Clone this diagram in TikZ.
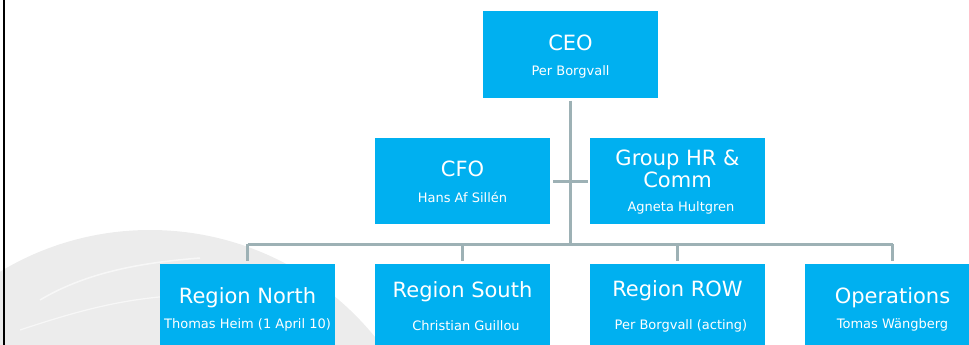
\documentclass[tikz,border=0pt]{standalone}
\usepackage{fontspec}
\setmainfont{DejaVu Sans}
\definecolor{boxblue}{HTML}{00B0F0}
\definecolor{conncol}{HTML}{9DB1B5}
\definecolor{globecol}{HTML}{ECECEC}
\tikzset{
  orgbox/.style={rectangle, fill=boxblue, draw=none, minimum width=175pt, minimum height=86pt, inner sep=0pt},
  tallbox/.style={orgbox, minimum height=110pt},
  ttl/.style={text=white, anchor=base, inner sep=0pt, font=\fontsize{21}{25}\selectfont},
  sub/.style={text=white, anchor=base, inner sep=0pt, font=\fontsize{13}{16}\selectfont},
  conn/.style={draw=conncol, line width=3pt}
}
\begin{document}
\begin{tikzpicture}[x=1pt,y=-1pt]
\useasboundingbox (0,0) rectangle (969,345);
\clip (0,0) rectangle (969,345);
% faint globe watermark
\fill[globecol] (150,520) circle (290);
\draw[white, line width=1.5pt, opacity=0.6] (40,300) .. controls (90,270) and (150,262) .. (200,258);
\draw[white, line width=1.2pt, opacity=0.6] (20,330) .. controls (80,310) and (120,300) .. (170,296);
% left border
\draw[black, line width=2pt] (4,0) -- (4,345);
% boxes
\node[orgbox] (ceo) at (570.5,54.5) {};
\node[orgbox] (cfo) at (462.5,181) {};
\node[orgbox] (hr) at (677.5,181) {};
\node[tallbox] (rn) at (247.5,319) {};
\node[tallbox] (rs) at (462.5,319) {};
\node[tallbox] (rw) at (677.5,319) {};
\node[tallbox] (op) at (892.5,319) {};
% texts
\node[ttl] (ceoT) at (570.5,51) {CEO};
\node[sub] (ceoS) at (570.5,76) {Per Borgvall};
\node[ttl] (cfoT) at (462.5,176) {CFO};
\node[sub] (cfoS) at (462.5,202) {Hans Af Sillén};
\node[ttl] (hrT1) at (677.5,165) {Group HR \&};
\node[ttl] (hrT2) at (677.5,187) {Comm};
\node[sub] (hrS) at (681,211) {Agneta Hultgren};
\node[ttl] (rnT) at (247.5,303) {Region North};
\node[sub] (rnS) at (247.5,328) {Thomas Heim (1 April 10)};
\node[ttl] (rsT) at (462.5,297) {Region South};
\node[sub] (rsS) at (466,330) {Christian Guillou};
\node[ttl] (rwT) at (677.5,296) {Region ROW};
\node[sub] (rwS) at (681,329) {Per Borgvall (acting)};
\node[ttl] (opT) at (892.5,303) {Operations};
\node[sub] (opS) at (892.5,328) {Tomas Wängberg};
% connectors
\coordinate (busL) at (247.5,244);
\coordinate (busR) at (892.5,244);
\draw[conn, shorten <=3pt] (ceo.south) -- (ceo.south |- busL);
\draw[conn] (busL) -- (busR);
\draw[conn, shorten >=3pt] (busL) -- (rn.north);
\draw[conn, shorten >=3pt] (rs.north |- busL) -- (rs.north);
\draw[conn, shorten >=3pt] (rw.north |- busL) -- (rw.north);
\draw[conn, shorten >=3pt] (busR) -- (op.north);
\draw[conn, shorten <=3pt, shorten >=2pt] (cfo.east) -- (hr.west);
\end{tikzpicture}
\end{document}
